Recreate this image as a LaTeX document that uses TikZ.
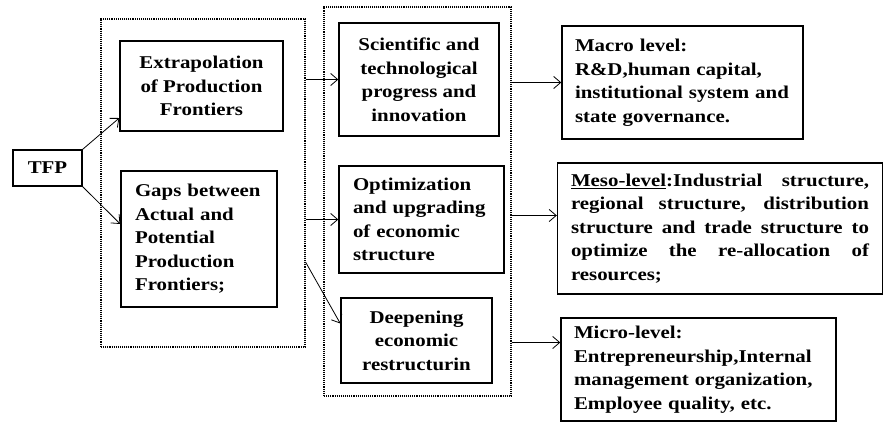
\documentclass[tikz,border=0pt]{standalone}
\usepackage{fontspec}
\setmainfont{Liberation Serif}[FakeStretch=1.16]
\usetikzlibrary{arrows.meta}

\begin{document}
\begin{tikzpicture}[x=1pt, y=-1pt,
    box/.style = {draw, line width=1.4pt, inner sep=0pt, font=\bfseries\fontsize{18}{23.5}\selectfont},
    frame/.style = {draw, densely dotted, line width=1.1pt},
    arr/.style = {-{Straight Barb[length=7pt,width=12pt]}, line width=0.8pt}]
            \useasboundingbox (0,0) rectangle (883,423);
            \node [frame, minimum width=204pt, minimum height=328pt] (ldot) at (203,183) {};   %linker Rahmen
            \node [frame, minimum width=187pt, minimum height=389pt] (mdot) at (417.5,201.5) {}; %mittlerer Rahmen
            \node [box, minimum width=69pt, minimum height=36pt] (tfp) at (47.5,168) {TFP};
            \node [box, minimum width=163pt, minimum height=90pt, align=center] (ext) at (201.5,86)
                {Extrapolation\\of Production\\Frontiers};
            \node [box, minimum width=156pt, minimum height=136pt, text width=128pt, align=left] (gaps) at (199,239)
                {Gaps between\\Actual and\\Potential\\Production\\Frontiers;};
            \node [box, minimum width=160pt, minimum height=113pt, align=center] (sci) at (419,79.5)
                {Scientific and\\technological\\progress and\\innovation};
            \node [box, minimum width=165pt, minimum height=107pt, text width=137pt, align=left] (opt) at (421.5,219.5)
                {Optimization\\and upgrading\\of economic\\structure};
            \node [box, minimum width=151pt, minimum height=85pt, align=center] (deep) at (416.5,340.5)
                {Deepening\\economic\\restructurin};
            \node [box, minimum width=241pt, minimum height=113pt, text width=215pt, align=left] (macro) at (682.5,82.5)
                {Macro level:\\R\&D,human capital,\\institutional system and\\state governance.};
            \node [box, minimum width=325pt, minimum height=131pt, text width=298pt, align=justify] (meso) at (720,228.5)
                {\underline{Meso-level}:Industrial structure,\linebreak regional structure, distribution\linebreak
                 structure and trade structure to\linebreak optimize the re-allocation of\linebreak resources;};
            \node [box, minimum width=275pt, minimum height=103pt, text width=249pt, align=left] (micro) at (698.5,369.5)
                {Micro-level:\\Entrepreneurship,Internal\\management organization,\\Employee quality, etc.};
            \coordinate (mesoin) at ([yshift=13pt]meso.west);
            \coordinate (microin) at ([yshift=27pt]micro.west);
            \draw [arr] (tfp.north east) -- ([yshift=-32pt]ext.west);      %TFP Pfeile
            \draw [arr] (tfp.south east) -- ([yshift=15pt]gaps.west);
            \draw [arr] (ldot.east |- sci.west) -- (sci.west);
            \draw [arr] (ldot.east |- opt.west) -- (opt.west);
            \draw [arr] ([yshift=-79pt]ldot.east) -- ([yshift=17pt]deep.west);
            \draw [arr] (mdot.east |- macro.west) -- (macro.west);          %rechte Pfeile
            \draw [arr] (mdot.east |- mesoin) -- (mesoin);
            \draw [arr] (mdot.east |- microin) -- (microin);
        \end{tikzpicture}
\end{document}
